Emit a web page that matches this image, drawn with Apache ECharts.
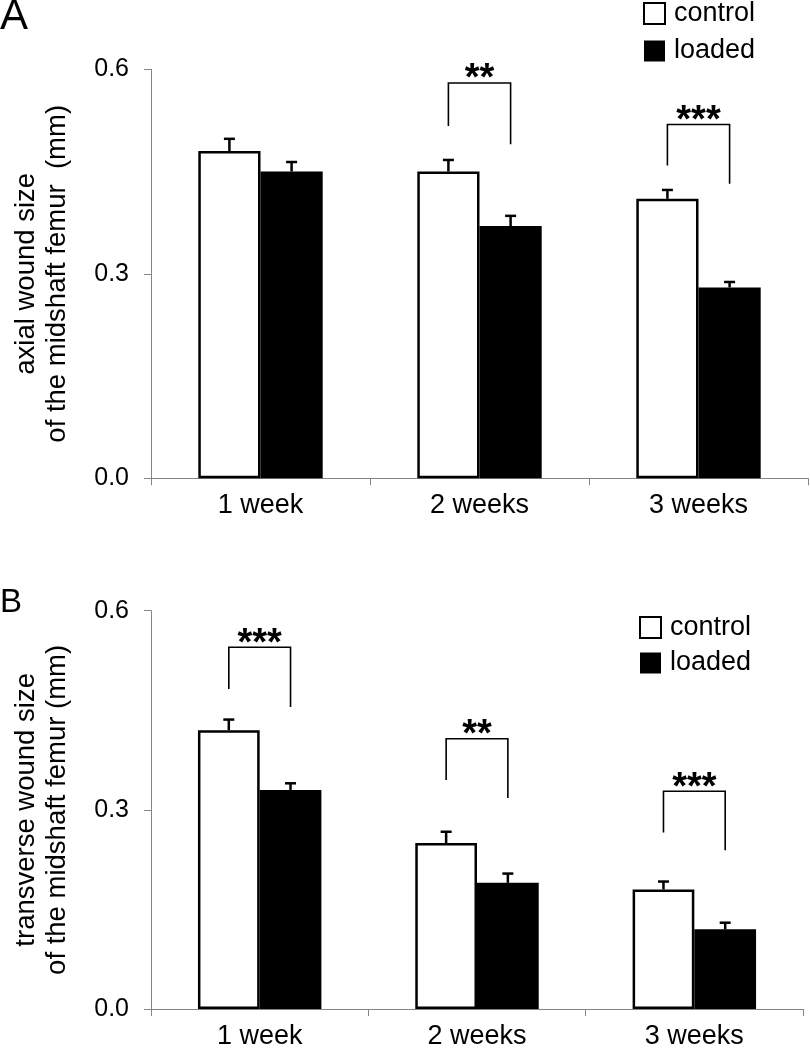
<!DOCTYPE html>
<html>
<head>
<meta charset="utf-8">
<script src="https://cdn.jsdelivr.net/npm/echarts@6/dist/echarts.min.js"></script>
<style>
html,body{margin:0;padding:0;background:#fff;}
#chart{width:810px;height:1050px;}
</style>
</head>
<body>
<div id="chart"></div>
<script>
// ---- data ----
var categories = ['1 week', '2 weeks', '3 weeks'];
var yTicks = [0.0, 0.3, 0.6];

var axialControl = [0.48, 0.45, 0.41];
var axialControlErr = [0.018, 0.017, 0.013];
var axialLoaded = [0.45, 0.37, 0.28];
var axialLoadedErr = [0.014, 0.015, 0.008];

var transControl = [0.42, 0.25, 0.18];
var transControlErr = [0.016, 0.017, 0.012];
var transLoaded = [0.33, 0.19, 0.12];
var transLoadedErr = [0.010, 0.014, 0.010];

// significance brackets: [category index, bracket top, left foot, right foot]
var axialBrackets = [[1, 0.580, 0.517, 0.490], [2, 0.519, 0.459, 0.432]];
var axialStars = ['**', '***'];
var transBrackets = [[0, 0.545, 0.482, 0.455], [1, 0.407, 0.345, 0.318], [2, 0.328, 0.266, 0.239]];
var transStars = ['***', '**', '***'];

// ---- chart ----
var FONT = '"Liberation Sans", Arial, sans-serif';
var BAR_FRAC = 0.284;
var AXIS_COLOR = '#858585';

function errRender(sign) {
  return function (params, api) {
    var i = api.value(0), v = api.value(1), e = api.value(2);
    var base = api.coord([i, v]);
    var top = api.coord([i, v + e]);
    var band = api.size([1, 0])[0];
    var x = base[0] + sign * band * BAR_FRAC / 2;
    return {
      type: 'group',
      children: [
        { type: 'line', shape: { x1: x, y1: base[1], x2: x, y2: top[1] }, style: { stroke: '#000', lineWidth: 2.5 } },
        { type: 'line', shape: { x1: x - 5.5, y1: top[1], x2: x + 5.5, y2: top[1] }, style: { stroke: '#000', lineWidth: 2.5 } }
      ]
    };
  };
}

function bracketRender(labels) {
  return function (params, api) {
    var i = api.value(0);
    var pT = api.coord([i, api.value(1)]);
    var yL = api.coord([i, api.value(2)])[1];
    var yR = api.coord([i, api.value(3)])[1];
    var band = api.size([1, 0])[0];
    var xl = pT[0] - band * BAR_FRAC / 2;
    var xr = pT[0] + band * BAR_FRAC / 2;
    return {
      type: 'group',
      children: [
        { type: 'polyline', shape: { points: [[xl, yL], [xl, pT[1]], [xr, pT[1]], [xr, yR]] },
          style: { stroke: '#000', lineWidth: 1.6, fill: null } },
        { type: 'text', x: pT[0], y: pT[1] - 3,
          style: { text: labels[params.dataIndex], fill: '#000', fontSize: 38, fontWeight: 'bold',
                   fontFamily: FONT, textAlign: 'center', textVerticalAlign: 'middle' } }
      ]
    };
  };
}

function errData(vals, errs) {
  return vals.map(function (v, i) { return [i, v, errs[i]]; });
}

function xAxisDef(gi) {
  return {
    type: 'category', gridIndex: gi, data: categories,
    axisLine: { lineStyle: { color: AXIS_COLOR, width: 1 } },
    axisTick: { show: true, length: 7, lineStyle: { color: AXIS_COLOR } },
    axisLabel: { color: '#000', fontSize: 27, fontFamily: FONT, margin: 14 }
  };
}

function yAxisDef(gi, name) {
  return {
    type: 'value', gridIndex: gi, min: yTicks[0], max: yTicks[yTicks.length - 1], interval: 0.3,
    name: name, nameLocation: 'middle', nameRotate: 90, nameGap: 78,
    nameTextStyle: { color: '#000', fontSize: 27.5, fontFamily: FONT, lineHeight: 31 },
    axisLine: { show: true, lineStyle: { color: AXIS_COLOR, width: 1 } },
    axisTick: { show: true, length: 7, lineStyle: { color: AXIS_COLOR } },
    splitLine: { show: false },
    axisLabel: { color: '#000', fontSize: 25, fontFamily: FONT, margin: 22,
                 formatter: function (v) { return v.toFixed(1); } }
  };
}

function barSeries(name, gi, vals, fill) {
  return {
    name: name, type: 'bar', xAxisIndex: gi, yAxisIndex: gi, data: vals,
    barWidth: (BAR_FRAC * 100) + '%', barGap: '0%',
    itemStyle: { color: fill, borderColor: '#000', borderWidth: 2.5 },
    emphasis: { disabled: true }, animation: false
  };
}

function customSeries(gi, data, render, z) {
  return {
    type: 'custom', xAxisIndex: gi, yAxisIndex: gi, data: data, renderItem: render,
    encode: { x: 0, y: 1 }, z: z || 5, animation: false, silent: true
  };
}

function legendDef(left, top, gap, gi) {
  return {
    orient: 'vertical', left: left, top: top, padding: 0, itemGap: gap,
    itemWidth: 21, itemHeight: 21, selectedMode: false,
    textStyle: { color: '#000', fontSize: 27, fontFamily: FONT, lineHeight: 27, padding: [0, 0, 0, 4] },
    data: [
      { name: 'control', icon: 'rect', itemStyle: { color: '#fff', borderColor: '#000', borderWidth: 2 } },
      { name: 'loaded', icon: 'rect', itemStyle: { color: '#000', borderColor: '#000', borderWidth: 0 } }
    ]
  };
}

var chart = echarts.init(document.getElementById('chart'), null, { renderer: 'canvas' });
chart.setOption({
  backgroundColor: '#fff',
  animation: false,
  graphic: [
    { type: 'text', left: 0, top: -4, style: { text: 'A', fontSize: 42, fontFamily: FONT, fill: '#000' } },
    { type: 'text', left: 0, top: 586, style: { text: 'B', fontSize: 33, fontFamily: FONT, fill: '#000' } }
  ],
  legend: [legendDef(643, 0, 10.5, 0), legendDef(639, 614, 8.5, 1)],
  grid: [
    { left: 151, top: 69.3, width: 657, height: 409, containLabel: false },
    { left: 151, top: 610.7, width: 652, height: 402.6, containLabel: false }
  ],
  xAxis: [xAxisDef(0), xAxisDef(1)],
  yAxis: [
    yAxisDef(0, 'axial wound size\nof the midshaft femur  (mm)'),
    yAxisDef(1, 'transverse wound size\nof the midshaft femur (mm)')
  ],
  series: [
    barSeries('control', 0, axialControl, '#fff'),
    barSeries('loaded', 0, axialLoaded, '#000'),
    customSeries(0, errData(axialControl, axialControlErr), errRender(-1)),
    customSeries(0, errData(axialLoaded, axialLoadedErr), errRender(1)),
    customSeries(0, axialBrackets, bracketRender(axialStars)),
    barSeries('control', 1, transControl, '#fff'),
    barSeries('loaded', 1, transLoaded, '#000'),
    customSeries(1, errData(transControl, transControlErr), errRender(-1)),
    customSeries(1, errData(transLoaded, transLoadedErr), errRender(1)),
    customSeries(1, transBrackets, bracketRender(transStars))
  ]
});
</script>
</body>
</html>
